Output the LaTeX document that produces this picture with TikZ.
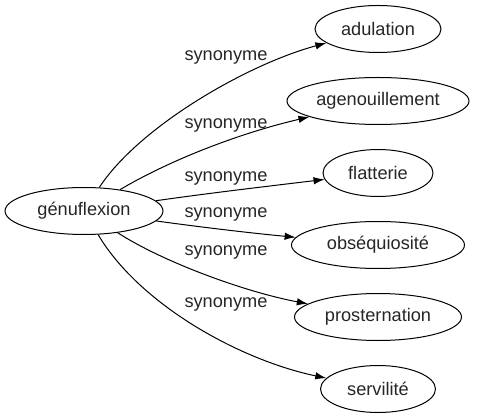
\documentclass[tikz,border=0pt]{standalone}
\usepackage{fontspec}
\setmainfont{Liberation Sans}
\usetikzlibrary{shapes.geometric,arrows.meta}
\begin{document}
\begin{tikzpicture}[x=1pt,y=-1pt,
  every node/.style={font=\fontsize{18.2}{21}\selectfont, text=black!85},
  term/.style={ellipse, draw, line width=1pt, minimum height=47, inner sep=0pt},
  lbl/.style={inner sep=0pt},
  syn/.style={-{Latex[length=11pt,width=7.5pt]}, line width=1pt}]
\useasboundingbox (0,0) rectangle (478,419);
\node[term, minimum width=158] (g) at (84,211) {génuflexion};
\node[term, minimum width=126] (t1) at (378,29) {adulation};
\node[term, minimum width=182] (t2) at (378,101) {agenouillement};
\node[term, minimum width=110] (t3) at (378,173) {flatterie};
\node[term, minimum width=173] (t4) at (378,245) {obséquiosité};
\node[term, minimum width=167] (t5) at (378,317) {prosternation};
\node[term, minimum width=115] (t6) at (378,389) {servilité};
\draw[syn] (g) .. controls (138,128) and (245,65) .. (t1);
\draw[syn] (g) .. controls (170,160) and (240,133) .. (t2);
\draw[syn] (g) .. controls (210,193) and (270,186) .. (t3);
\draw[syn] (g) .. controls (200,227) and (250,233) .. (t4);
\draw[syn] (g) .. controls (163,262) and (245,292) .. (t5);
\draw[syn] (g) .. controls (140,305) and (240,360) .. (t6);
\node[lbl] (l1) at (226,57) {synonyme};
\node[lbl] (l2) at (226,125) {synonyme};
\node[lbl] (l3) at (226,178) {synonyme};
\node[lbl] (l4) at (226,214) {synonyme};
\node[lbl] (l5) at (226,252) {synonyme};
\node[lbl] (l6) at (226,304) {synonyme};
\end{tikzpicture}
\end{document}
